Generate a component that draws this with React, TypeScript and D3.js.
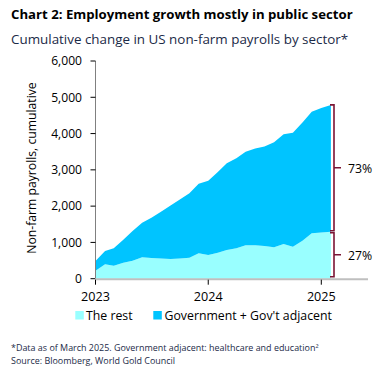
import React from "react";
import * as d3 from "d3";

const months = [
  "2023-01","2023-02","2023-03","2023-04","2023-05","2023-06","2023-07","2023-08","2023-09","2023-10","2023-11","2023-12",
  "2024-01","2024-02","2024-03","2024-04","2024-05","2024-06","2024-07","2024-08","2024-09","2024-10","2024-11","2024-12",
  "2025-01","2025-02",
];
const restValues = [220,397,358,441,496,590,570,555,545,560,575,700,653,717,791,838,920,920,900,865,956,882,1047,1251,1270,1296];
const govValues = [270,366,480,634,819,954,1111,1293,1470,1620,1779,1920,2048,2223,2389,2480,2580,2670,2745,2895,3024,3142,3261,3352,3435,3494];
const yTicks = [0,1000,2000,3000,4000,5000,6000];
const xTickYears = ["2023","2024","2025"];
const seriesNames = ["The rest","Government + Gov't adjacent"];
const seriesColors = ["#99FFFF","#00C4FF"];

const W = 386, H = 375;
const FONT = "'Open Sans', 'Noto Sans', sans-serif";

export default function App() {
  const parse = d3.timeParse("%Y-%m");
  const dates = months.map((m) => parse(m) as Date);
  const x = d3.scaleTime().domain([new Date(2023,0,1), new Date(2025,0,1)]).range([95.5, 321.3]);
  const y = d3.scaleLinear().domain([0, 6000]).range([278.7, 61]);

  const data = dates.map((d, i) => ({ date: d, rest: restValues[i], gov: govValues[i] }));
  const stack = d3.stack<any>().keys(["rest", "gov"])(data);
  const area = d3.area<any>().x((d) => x(d.data.date)).y0((d) => y(d[0])).y1((d) => y(d[1]));

  const last = data[data.length - 1];
  const yTop = y(last.rest + last.gov);
  const yMid = y(last.rest);
  const y0 = y(0);
  const bx = 334;

  const bracket = (t: number, b: number) => {
    const m = (t + b) / 2;
    return `M${bx - 4},${t} L${bx},${t} L${bx},${b} L${bx - 4},${b} M${bx},${m} L${bx + 7},${m}`;
  };
  const pct = (v: number) => `${Math.round((v / (last.rest + last.gov)) * 100)}%`;

  return (
    <svg width={W} height={H} style={{ position: "absolute", left: 0, top: 0, background: "#fff" }} fontFamily={FONT}>
      <text x={11} y={19} fontSize={13.2} fontWeight="bold" fill="#000">Chart 2: Employment growth mostly in public sector</text>
      <text x={11} y={44} fontSize={13.4} fill="#1b2a47">Cumulative change in US non-farm payrolls by sector*</text>

      {stack.map((s, i) => (
        <path key={i} d={area(s) || ""} fill={seriesColors[i]} />
      ))}

      {/* y axis */}
      <line x1={95.5} x2={95.5} y1={y(6000)} y2={y0} stroke="#808080" strokeWidth={1} />
      {yTicks.map((t) => (
        <g key={t}>
          <line x1={90.5} x2={95.5} y1={y(t)} y2={y(t)} stroke="#000" strokeWidth={1} />
          <text x={82} y={y(t) + 4.3} fontSize={12.1} textAnchor="end" fill="#000">{d3.format(",")(t)}</text>
        </g>
      ))}
      <text transform={`translate(36,168) rotate(-90)`} fontSize={12.2} textAnchor="middle" fill="#000">Non-farm payrolls, cumulative</text>

      {/* x axis */}
      <line x1={95} x2={368} y1={y0 + 0.5} y2={y0 + 0.5} stroke="#bfbfbf" strokeWidth={2} />
      {xTickYears.map((yr) => {
        const xx = x(new Date(+yr, 0, 1));
        return (
          <g key={yr}>
            <line x1={xx} x2={xx} y1={y0 + 1} y2={y0 + 6} stroke="#000" strokeWidth={1} />
            <text x={xx} y={300.5} fontSize={12.6} textAnchor="middle" fill="#000">{yr}</text>
          </g>
        );
      })}

      {/* brackets */}
      <path d={bracket(yTop, yMid - 1)} fill="none" stroke="#7a1535" strokeWidth={1.6} />
      <path d={bracket(yMid + 1, y0 - 2)} fill="none" stroke="#7a1535" strokeWidth={1.6} />
      <text x={348} y={(yTop + yMid) / 2 + 5} fontSize={12.3} fill="#000">{pct(last.gov)}</text>
      <text x={348} y={(yMid + y0) / 2 + 5} fontSize={12.3} fill="#000">{pct(last.rest)}</text>

      {/* legend */}
      <rect x={75.3} y={311} width={8.5} height={8.5} fill={seriesColors[0]} />
      <text x={86} y={319.5} fontSize={12.3} fill="#000">{seriesNames[0]}</text>
      <rect x={153.3} y={311} width={8.5} height={8.5} fill={seriesColors[1]} />
      <text x={164.5} y={319.5} fontSize={12.3} fill="#000">{seriesNames[1]}</text>

      <text x={11} y={350.5} fontSize={8.95} fill="#1b2a47">*Data as of March 2025. Government adjacent: healthcare and education²</text>
      <text x={11} y={363.5} fontSize={8.95} fill="#1b2a47">Source: Bloomberg, World Gold Council</text>
    </svg>
  );
}
